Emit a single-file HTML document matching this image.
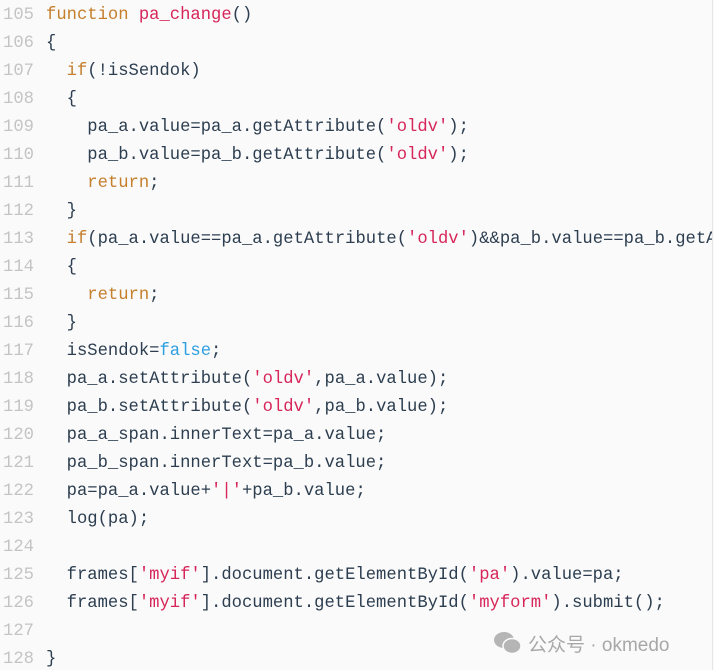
<!DOCTYPE html>
<html><head><meta charset="utf-8"><style>
html,body{margin:0;padding:0;width:714px;height:670px;overflow:hidden;background:#fafafa;}
.wrap{position:absolute;left:0;top:0;width:712px;height:670px;border-right:1px solid #e6e6e6;overflow:hidden;}
.l{position:absolute;left:0;width:712px;overflow:hidden;height:28px;line-height:28px;white-space:pre;font-family:"Liberation Mono",monospace;font-size:17.2px;color:#2c3e50;margin-top:2px;}
.n{display:inline-block;width:46px;padding-left:3px;box-sizing:border-box;color:#c4c4c4;}
.k{color:#c57f2d}.f{color:#d6265a}.s{color:#d6265a}.b{color:#2e9fe0}
.wm{position:absolute;left:496px;top:630px;font-family:"Liberation Sans","Noto Sans CJK SC",sans-serif;font-size:19px;color:#a8a8a8;white-space:pre;}
</style></head><body><div class="wrap">
<div class="l" style="top:0"><span class="n">105</span><span class="k">function</span> <span class="f">pa_change</span>()</div>
<div class="l" style="top:28px"><span class="n">106</span>{</div>
<div class="l" style="top:56px"><span class="n">107</span>  <span class="k">if</span>(!isSendok)</div>
<div class="l" style="top:84px"><span class="n">108</span>  {</div>
<div class="l" style="top:112px"><span class="n">109</span>    pa_a.value=pa_a.getAttribute(<span class="s">'oldv'</span>);</div>
<div class="l" style="top:140px"><span class="n">110</span>    pa_b.value=pa_b.getAttribute(<span class="s">'oldv'</span>);</div>
<div class="l" style="top:168px"><span class="n">111</span>    <span class="k">return</span>;</div>
<div class="l" style="top:196px"><span class="n">112</span>  }</div>
<div class="l" style="top:224px"><span class="n">113</span>  <span class="k">if</span>(pa_a.value==pa_a.getAttribute(<span class="s">'oldv'</span>)&amp;&amp;pa_b.value==pa_b.getAttribute(<span class="s">'oldv'</span>))</div>
<div class="l" style="top:252px"><span class="n">114</span>  {</div>
<div class="l" style="top:280px"><span class="n">115</span>    <span class="k">return</span>;</div>
<div class="l" style="top:308px"><span class="n">116</span>  }</div>
<div class="l" style="top:336px"><span class="n">117</span>  isSendok=<span class="b">false</span>;</div>
<div class="l" style="top:364px"><span class="n">118</span>  pa_a.setAttribute(<span class="s">'oldv'</span>,pa_a.value);</div>
<div class="l" style="top:392px"><span class="n">119</span>  pa_b.setAttribute(<span class="s">'oldv'</span>,pa_b.value);</div>
<div class="l" style="top:420px"><span class="n">120</span>  pa_a_span.innerText=pa_a.value;</div>
<div class="l" style="top:448px"><span class="n">121</span>  pa_b_span.innerText=pa_b.value;</div>
<div class="l" style="top:476px"><span class="n">122</span>  pa=pa_a.value+<span class="s">'|'</span>+pa_b.value;</div>
<div class="l" style="top:504px"><span class="n">123</span>  log(pa);</div>
<div class="l" style="top:532px"><span class="n">124</span></div>
<div class="l" style="top:560px"><span class="n">125</span>  frames[<span class="s">'myif'</span>].document.getElementById(<span class="s">'pa'</span>).value=pa;</div>
<div class="l" style="top:588px"><span class="n">126</span>  frames[<span class="s">'myif'</span>].document.getElementById(<span class="s">'myform'</span>).submit();</div>
<div class="l" style="top:616px"><span class="n">127</span></div>
<div class="l" style="top:644px"><span class="n">128</span>}</div>
<svg style="position:absolute;left:494px;top:631px" width="28" height="24" viewBox="0 0 28 24">
<ellipse cx="10" cy="9" rx="10" ry="8" fill="#b5b5b5"/><ellipse cx="18" cy="15" rx="9" ry="7.5" fill="#b5b5b5" stroke="#fafafa" stroke-width="1.5"/>
</svg>
<div class="wm" style="left:528px">公众号 · okmedo</div>
</div></body></html>
